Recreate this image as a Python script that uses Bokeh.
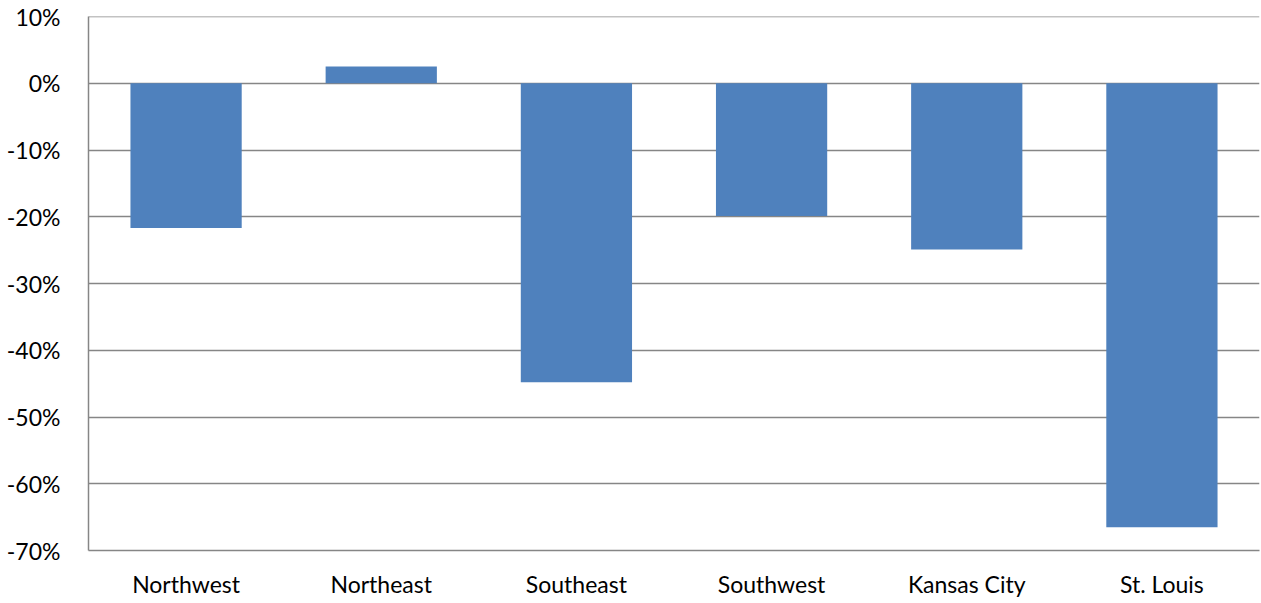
from bokeh.plotting import figure
from bokeh.models import Range1d, FixedTicker, NumeralTickFormatter, Span
from bokeh.embed import file_html
from bokeh.resources import INLINE

regions = ["Northwest", "Northeast", "Southeast", "Southwest", "Kansas City", "St. Louis"]
changes = [-0.217, 0.025, -0.448, -0.199, -0.249, -0.665]
y_ticks = [-0.7, -0.6, -0.5, -0.4, -0.3, -0.2, -0.1, 0.0, 0.1]

p = figure(x_range=regions, width=1261, height=600, output_backend="svg",
           toolbar_location=None, min_border_left=88, min_border_right=2,
           min_border_top=16, min_border_bottom=48)
p.y_range = Range1d(-0.7, 0.1)

p.vbar(x=regions, top=changes, bottom=0, width=0.57, fill_color="#4F81BD",
       line_color=None)

p.outline_line_color = None
p.xgrid.grid_line_color = None
p.ygrid.grid_line_color = "#868686"
p.ygrid.grid_line_width = 1.5
p.ygrid.ticker = FixedTicker(ticks=y_ticks)

p.yaxis.ticker = FixedTicker(ticks=y_ticks)
p.yaxis.formatter = NumeralTickFormatter(format="0%")
p.yaxis.axis_line_color = "#868686"
p.yaxis.axis_line_width = 1.5
p.yaxis.major_tick_line_color = None
p.yaxis.minor_tick_line_color = None
p.yaxis.major_label_standoff = 22

p.xaxis.axis_line_color = "#868686"
p.xaxis.axis_line_width = 1.5
p.xaxis.major_tick_line_color = None
p.xaxis.minor_tick_line_color = None
p.xaxis.major_label_standoff = 13

for ax in (p.xaxis, p.yaxis):
    ax.major_label_text_font = "Lato"
    ax.major_label_text_font_size = "23px"
    ax.major_label_text_color = "#000000"

p.add_layout(Span(location=0.1, dimension="width", line_color="#868686", line_width=1.5))

open("out.html", "w").write(file_html(p, INLINE))
